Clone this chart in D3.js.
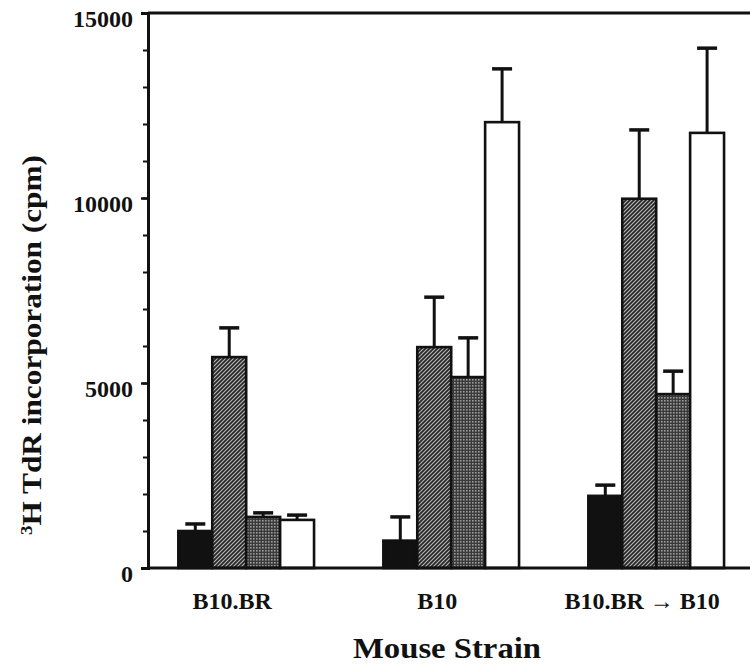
<!DOCTYPE html>
<html>
<head>
<meta charset="utf-8">
<script src="https://cdn.jsdelivr.net/npm/d3@7"></script>
<style>
  html, body { margin: 0; padding: 0; background: #fff; overflow: hidden; }
  svg { display: block; }
  text { font-family: "Liberation Serif", "DejaVu Serif", serif; font-weight: bold; fill: #111; }
</style>
</head>
<body>
<script>
// ---- data ----
const categories = ["B10.BR", "B10", "B10.BR \u2192 B10"];
const seriesNames = ["solid", "hatched", "dotted", "open"];
const solidValues   = [1000, 740, 1950];
const hatchedValues = [5700, 5970, 9980];
const dottedValues  = [1380, 5160, 4700];
const openValues    = [1300, 12050, 11760];
const solidErr   = [190, 640, 290];
const hatchedErr = [790, 1350, 1860];
const dottedErr  = [110, 1060, 620];
const openErr    = [130, 1440, 2290];
const yTickValues = [0, 5000, 10000, 15000];
const yMinorTicks = d3.range(0, 15001, 1000);
const yTitle = "TdR incorporation (cpm)";
const xTitle = "Mouse Strain";

const seriesValues = [solidValues, hatchedValues, dottedValues, openValues];
const seriesErr = [solidErr, hatchedErr, dottedErr, openErr];

// ---- layout ----
const W = 750, H = 671;
const svg = d3.select("body").append("svg").attr("width", W).attr("height", H);

const defs = svg.append("defs");
// hatched pattern
const ph = defs.append("pattern").attr("id", "hatch").attr("patternUnits", "userSpaceOnUse")
  .attr("width", 4).attr("height", 4);
ph.append("rect").attr("width", 4).attr("height", 4).attr("fill", "#262626");
ph.append("path").attr("d", "M0,4 L4,0 M-1,1 L1,-1 M3,5 L5,3").attr("stroke", "#b8b8b8").attr("stroke-width", 1.1);
// dotted pattern
const pd = defs.append("pattern").attr("id", "dots").attr("patternUnits", "userSpaceOnUse")
  .attr("width", 3).attr("height", 3);
pd.append("rect").attr("width", 3).attr("height", 3).attr("fill", "#3a3a3a");
pd.append("rect").attr("x", 1).attr("y", 1).attr("width", 1.6).attr("height", 1.6).attr("fill", "#9a9a9a");

const fills = ["#111", "url(#hatch)", "url(#dots)", "#fff"];

const axisX = 148;
const y = d3.scaleLinear().domain([0, 15000]).range([568, 13]);
const x0 = d3.scaleBand().domain(categories).range([axisX, axisX + 3 * 205]).padding(0);
const x1 = d3.scaleBand().domain(seriesNames)
  .range([x0.bandwidth() * 0.148, x0.bandwidth() * 0.81]).padding(0);

// bars
const barData = [];
categories.forEach((c, ci) => {
  seriesNames.forEach((s, si) => {
    barData.push({ c, s, si, v: seriesValues[si][ci], e: seriesErr[si][ci] });
  });
});

const g = svg.append("g");
// error bars (drawn first so bar tops cover their base)
g.selectAll("line.err").data(barData).enter().append("line")
  .attr("x1", d => x0(d.c) + x1(d.s) + x1.bandwidth() / 2)
  .attr("x2", d => x0(d.c) + x1(d.s) + x1.bandwidth() / 2)
  .attr("y1", d => y(d.v))
  .attr("y2", d => y(d.v + d.e))
  .attr("stroke", "#111").attr("stroke-width", 3);
g.selectAll("line.cap").data(barData).enter().append("line")
  .attr("x1", d => x0(d.c) + x1(d.s) + x1.bandwidth() / 2 - 10)
  .attr("x2", d => x0(d.c) + x1(d.s) + x1.bandwidth() / 2 + 10)
  .attr("y1", d => y(d.v + d.e))
  .attr("y2", d => y(d.v + d.e))
  .attr("stroke", "#111").attr("stroke-width", 3.5);

g.selectAll("rect.bar").data(barData).enter().append("rect")
  .attr("x", d => x0(d.c) + x1(d.s))
  .attr("y", d => y(d.v))
  .attr("width", x1.bandwidth())
  .attr("height", d => y(0) - y(d.v))
  .attr("fill", d => fills[d.si])
  .attr("stroke", "#111").attr("stroke-width", 2.6);

// frame lines: top and baseline
svg.append("line").attr("x1", axisX).attr("x2", W).attr("y1", y(15000)).attr("y2", y(15000))
  .attr("stroke", "#111").attr("stroke-width", 3);
svg.append("line").attr("x1", axisX).attr("x2", W).attr("y1", y(0)).attr("y2", y(0))
  .attr("stroke", "#111").attr("stroke-width", 3);

// y axis: minor ticks
const yMinor = d3.axisLeft(y).tickValues(yMinorTicks).tickSize(5).tickFormat("");
const gm = svg.append("g").attr("transform", `translate(${axisX},0)`).call(yMinor);
gm.select(".domain").remove();
gm.selectAll(".tick line").attr("stroke", "#111").attr("stroke-width", 2);

// y axis major
const yAxis = d3.axisLeft(y).tickValues(yTickValues).tickSize(7).tickPadding(8).tickFormat(d3.format("d"));
const ga = svg.append("g").attr("transform", `translate(${axisX},0)`).call(yAxis);
ga.select(".domain").attr("stroke", "#111").attr("stroke-width", 3);
ga.selectAll(".tick line").attr("stroke", "#111").attr("stroke-width", 2.5);
ga.selectAll(".tick text")
  .style("font-family", "'Liberation Serif', serif").style("font-weight", "bold")
  .style("font-size", "24px").attr("fill", "#111").attr("dy", "0.55em");

// category labels
svg.selectAll("text.cat").data(categories).enter().append("text")
  .attr("class", "cat")
  .attr("x", d => x0(d) + x1.range()[0] + (x1.range()[1] - x1.range()[0]) / 2 - 14)
  .attr("y", 609)
  .attr("text-anchor", "middle")
  .style("font-size", "24px")
  .text(d => d);

// x title
svg.append("text")
  .attr("x", 447).attr("y", 658)
  .attr("text-anchor", "middle")
  .attr("textLength", 188).attr("lengthAdjust", "spacingAndGlyphs")
  .style("font-size", "30px")
  .text(xTitle);

// y title
const yt = svg.append("text")
  .attr("transform", "translate(41,345) rotate(-90)")
  .attr("text-anchor", "middle")
  .style("font-size", "28px");
yt.append("tspan").attr("baseline-shift", "super").style("font-size", "17px").text("3");
yt.append("tspan").text("H " + yTitle);
yt.attr("textLength", 380).attr("lengthAdjust", "spacingAndGlyphs");
</script>
</body>
</html>
